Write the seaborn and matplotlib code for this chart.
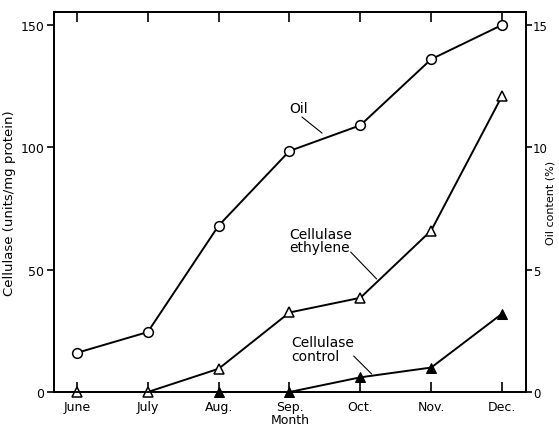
import matplotlib
matplotlib.use("Agg")
import matplotlib.pyplot as plt
import seaborn as sns
import numpy as np

months = ["June", "July", "Aug.", "Sep.", "Oct.", "Nov.", "Dec."]
oil = [16, 24.5, 68, 98.5, 109, 136, 150]          # left-axis units (= oil % x 10)
cell_ethylene = [0, 0, 9.5, 32.5, 38.5, 66, 121]
cell_control = [np.nan, np.nan, 0, 0, 6, 10, 32]

sns.set_style("ticks")
plt.rcParams["font.family"] = ["DejaVu Sans"]
plt.rcParams.update({
    "axes.linewidth": 1.3,
    "text.color": "black",
    "axes.labelcolor": "black",
    "xtick.color": "black",
    "ytick.color": "black",
    "axes.edgecolor": "black",
})

fig = plt.figure(figsize=(5.59, 4.27), dpi=100)
ax = fig.add_axes([0.0966, 0.0796, 0.8443, 0.89])
x = np.arange(len(months))

line_kw = dict(color="black", linewidth=1.4, markersize=7, clip_on=False, zorder=5)
sns.lineplot(x=x, y=oil, ax=ax, marker="o", markerfacecolor="white",
             markeredgecolor="black", markeredgewidth=1.1, **line_kw)
sns.lineplot(x=x, y=cell_ethylene, ax=ax, marker="^", markerfacecolor="white",
             markeredgecolor="black", markeredgewidth=1.1, **line_kw)
sns.lineplot(x=x, y=cell_control, ax=ax, marker="^", markerfacecolor="black",
             markeredgecolor="black", **line_kw)

ax.set_xlim(-0.323, 6.337)
ax.set_ylim(0, 155.3)
ax.set_xticks(x)
ax.set_xticklabels(months, fontsize=9)
ax.set_yticks([0, 50, 100, 150])
ax.tick_params(axis="y", direction="out", length=5, width=1.2, labelsize=9, pad=2)
ax.tick_params(axis="x", direction="in", length=7, width=1.2, top=True, pad=6)
ax.set_xlabel("Month", fontsize=9, labelpad=0)
ax.set_ylabel("Cellulase (units/mg protein)", fontsize=9.5, labelpad=3)

ax2 = ax.twinx()
ax2.set_ylim(0, 15.53)
ax2.set_yticks([0, 5, 10, 15])
ax2.tick_params(axis="y", direction="out", length=4, width=1.2, labelsize=8.5, pad=1)
ax2.set_ylabel("Oil content (%)", fontsize=8, labelpad=-1.5)

# curve labels
ax.text(2.99, 116, "Oil", fontsize=10, ha="left", va="center")
ax.text(2.99, 62, "Cellulase\nethylene", fontsize=10, ha="left", va="center",
        linespacing=0.95)
ax.text(3.02, 17.5, "Cellulase\ncontrol", fontsize=10, ha="left", va="center",
        linespacing=0.95)

# leader lines
leader = dict(arrowstyle="-", color="black", lw=0.8, shrinkA=0, shrinkB=0)
ax.annotate("", xy=(3.46, 105.8), xytext=(3.175, 112.4), arrowprops=leader)
ax.annotate("", xy=(4.23, 46.2), xytext=(3.864, 57.2), arrowprops=leader)
ax.annotate("", xy=(4.159, 7.4), xytext=(3.906, 14.7), arrowprops=leader)

fig.savefig("out.png", dpi=100)
